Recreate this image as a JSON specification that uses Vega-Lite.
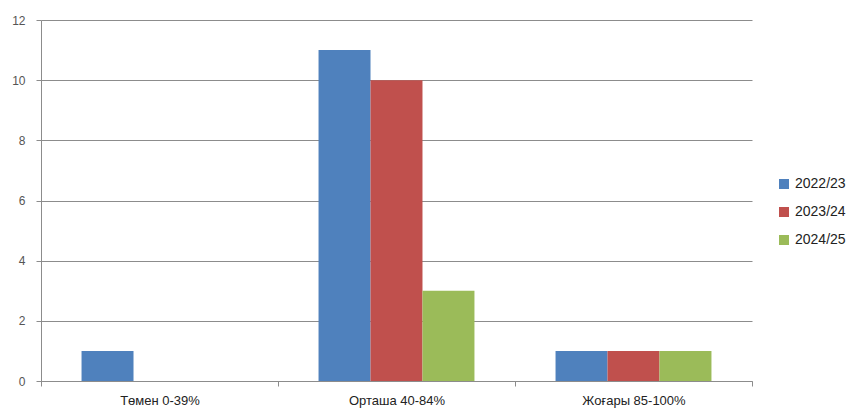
{
  "$schema": "https://vega.github.io/schema/vega-lite/v6.json",
  "autosize": "none",
  "width": 711,
  "height": 361,
  "padding": {"left": 41, "top": 20, "right": 101, "bottom": 28},
  "background": "white",
  "data": {"values": [
    {"category": "Төмен 0-39%", "year": "2022/23", "value": 1},
    {"category": "Төмен 0-39%", "year": "2023/24", "value": 0},
    {"category": "Төмен 0-39%", "year": "2024/25", "value": 0},
    {"category": "Орташа 40-84%", "year": "2022/23", "value": 11},
    {"category": "Орташа 40-84%", "year": "2023/24", "value": 10},
    {"category": "Орташа 40-84%", "year": "2024/25", "value": 3},
    {"category": "Жоғары 85-100%", "year": "2022/23", "value": 1},
    {"category": "Жоғары 85-100%", "year": "2023/24", "value": 1},
    {"category": "Жоғары 85-100%", "year": "2024/25", "value": 1}
  ]},
  "mark": {"type": "bar"},
  "encoding": {
    "x": {
      "field": "category", "type": "nominal", "sort": null,
      "scale": {"paddingInner": 0, "paddingOuter": 0},
      "axis": {
        "title": null, "labelAngle": 0, "tickBand": "extent",
        "domainColor": "#8c8c8c", "tickColor": "#8c8c8c", "tickSize": 5,
        "labelFont": "Liberation Sans", "labelFontSize": 13, "labelColor": "#222222",
        "labelPadding": 8, "grid": false
      }
    },
    "xOffset": {
      "field": "year", "type": "nominal",
      "scale": {"paddingInner": 0, "paddingOuter": 0.78}
    },
    "y": {
      "field": "value", "type": "quantitative",
      "scale": {"domain": [0, 12], "nice": false},
      "axis": {
        "title": null, "values": [0, 2, 4, 6, 8, 10, 12],
        "grid": true, "gridColor": "#8c8c8c", "gridWidth": 1,
        "domainColor": "#8c8c8c", "tickColor": "#8c8c8c", "tickSize": 5,
        "labelFont": "Liberation Sans", "labelFontSize": 12, "labelColor": "#555555",
        "labelPadding": 11
      }
    },
    "color": {
      "field": "year", "type": "nominal",
      "scale": {"domain": ["2022/23", "2023/24", "2024/25"], "range": ["#4F81BD", "#C0504D", "#9BBB59"]},
      "legend": {
        "title": null, "orient": "none", "legendX": 736, "legendY": 157,
        "symbolType": "square", "symbolSize": 100, "symbolStrokeWidth": 0,
        "rowPadding": 14, "labelFont": "Liberation Sans", "labelFontSize": 14,
        "labelColor": "#222222", "labelOffset": 4
      }
    }
  },
  "config": {"view": {"stroke": null}}
}
